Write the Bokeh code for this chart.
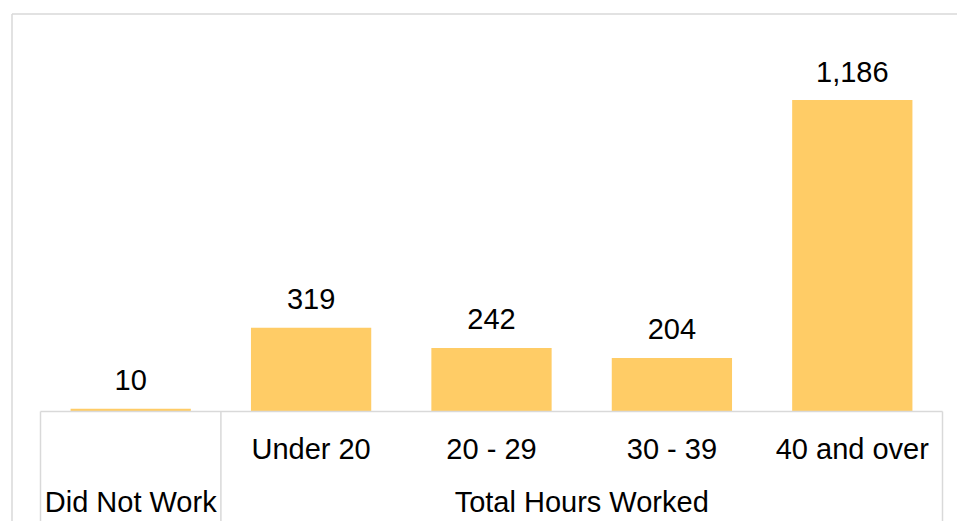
from bokeh.plotting import figure
from bokeh.models import Range1d
from bokeh.core.properties import value
from bokeh.embed import file_html
from bokeh.resources import INLINE

# ---- data ----
categories = ["Did Not Work", "Under 20", "20 - 29", "30 - 39", "40 and over"]
counts = [10, 319, 242, 204, 1186]
value_labels = ["10", "319", "242", "204", "1,186"]
group_labels = ["Did Not Work", "Total Hours Worked"]
group_members = [["Did Not Work"], ["Under 20", "20 - 29", "30 - 39", "40 and over"]]

# ---- layout constants (pixels, figure coordinates) ----
W, H = 957, 521
AXIS_LEFT = 40.0        # left edge of category box
CAT_W = 180.4           # width of one category slot
BASE_Y = 411.0          # baseline (value 0) from top of figure
PX_PER_UNIT = 311.5 / 1186.0
BORDER_X = 11.5         # outer chart-area border
BORDER_Y = 13.5

BAR_COLOR = "#FFCC66"
LINE_COLOR = "#D9D9D9"
FONT = value("Liberation Sans")
FONT_SIZE = "29px"

x_range = Range1d(-AXIS_LEFT / CAT_W, (W - AXIS_LEFT) / CAT_W)
y_range = Range1d(-(H - BASE_Y) / PX_PER_UNIT, BASE_Y / PX_PER_UNIT)

p = figure(width=W, height=H, x_range=x_range, y_range=y_range,
           output_backend="svg", toolbar_location=None,
           min_border=0, min_border_left=0, min_border_right=0,
           min_border_top=0, min_border_bottom=0)
p.axis.visible = False
p.grid.visible = False
p.outline_line_color = None
p.background_fill_color = "white"
p.border_fill_color = "white"

n = len(categories)
xs = [i + 0.5 for i in range(n)]

# outer chart-area border (top and left visible)
bx = (BORDER_X - AXIS_LEFT) / CAT_W
by = (BASE_Y - BORDER_Y) / PX_PER_UNIT
p.segment(x0=[bx, bx], y0=[by, by], x1=[x_range.end + 1, bx], y1=[by, y_range.start - 10],
          line_color=LINE_COLOR, line_width=1.5)

# bars
p.vbar(x=xs, top=counts, bottom=0, width=2 / 3, fill_color=BAR_COLOR, line_color=None)

# value labels
p.text(x=xs, y=counts, text=value_labels, y_offset=-28.5,
       text_align="center", text_baseline="alphabetic",
       text_font=FONT, text_font_size=FONT_SIZE, text_color="black")

# category axis box
bounds = [0]
for g in group_members:
    bounds.append(bounds[-1] + len(g))
p.segment(x0=[0], y0=[0], x1=[n], y1=[0], line_color=LINE_COLOR, line_width=1.5)
p.segment(x0=bounds, y0=[0] * len(bounds), x1=bounds, y1=[y_range.start - 10] * len(bounds),
          line_color=LINE_COLOR, line_width=1.5)

# sub-category labels (only for groups with more than one member)
sub_x, sub_t = [], []
for gi, g in enumerate(group_members):
    if len(g) > 1:
        for c in g:
            sub_x.append(categories.index(c) + 0.5)
            sub_t.append(c)
p.text(x=sub_x, y=[0] * len(sub_x), text=sub_t, y_offset=37.5,
       text_align="center", text_baseline="alphabetic",
       text_font=FONT, text_font_size=FONT_SIZE, text_color="black")

# group labels
gx = [(bounds[i] + bounds[i + 1]) / 2 for i in range(len(group_labels))]
p.text(x=gx, y=[0] * len(gx), text=group_labels, y_offset=90,
       text_align="center", text_baseline="alphabetic",
       text_font=FONT, text_font_size=FONT_SIZE, text_color="black")

open("out.html", "w").write(file_html(p, INLINE, title="Total Hours Worked"))
